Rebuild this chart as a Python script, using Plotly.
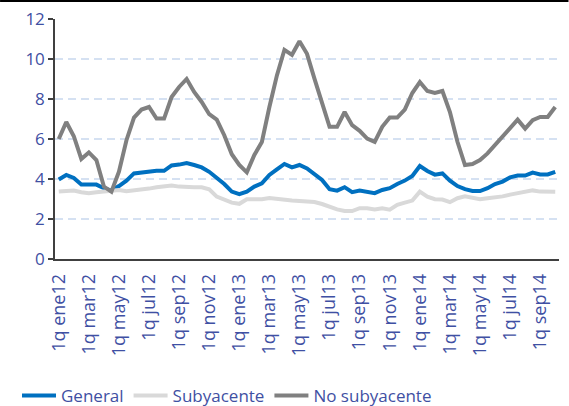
import plotly.graph_objects as go

meses = ["ene", "feb", "mar", "abr", "may", "jun", "jul", "ago", "sep", "oct", "nov", "dic"]
# Quincenas desde 1q ene12 hasta 1q oct14
periodos = [f"{q}q {meses[m % 12]}{12 + m // 12}" for m in range(34) for q in (1, 2)][:67]

etiquetas = ["1q ene12", "1q mar12", "1q may12", "1q jul12", "1q sep12", "1q nov12",
             "1q ene13", "1q mar13", "1q may13", "1q jul13", "1q sep13", "1q nov13",
             "1q ene14", "1q mar14", "1q may14", "1q jul14", "1q sep14"]

general = [3.98, 4.20, 4.05, 3.73, 3.73, 3.72, 3.54, 3.42, 3.65, 3.92,
           4.28, 4.32, 4.40, 4.41, 4.41, 4.68, 4.72, 4.80, 4.70, 4.58,
           4.36, 4.08, 3.75, 3.37, 3.24, 3.37, 3.62, 3.78, 4.20, 4.48,
           4.75, 4.58, 4.70, 4.53, 4.25, 3.95, 3.49, 3.42, 3.59, 3.34,
           3.42, 3.37, 3.29, 3.45, 3.54, 3.75, 3.92, 4.15, 4.65, 4.40,
           4.22, 4.28, 3.92, 3.65, 3.49, 3.40, 3.40, 3.54, 3.75, 3.87,
           4.08, 4.17, 4.17, 4.32, 4.23, 4.23, 4.36]

subyacente = [3.37, 3.37, 3.42, 3.34, 3.29, 3.34, 3.37, 3.42, 3.45, 3.39,
              3.42, 3.45, 3.52, 3.59, 3.65, 3.68, 3.62, 3.59, 3.59, 3.59,
              3.49, 3.12, 2.96, 2.82, 2.76, 2.99, 2.99, 2.99, 3.05, 2.99,
              2.97, 2.92, 2.90, 2.87, 2.85, 2.75, 2.60, 2.48, 2.40, 2.40,
              2.54, 2.54, 2.48, 2.54, 2.47, 2.71, 2.82, 2.92, 3.37, 3.12,
              2.99, 2.97, 2.84, 3.04, 3.13, 3.08, 2.99, 3.04, 3.07, 3.13,
              3.22, 3.30, 3.38, 3.43, 3.37, 3.36, 3.36]

no_subyacente = [6.00, 6.85, 6.14, 5.00, 5.33, 4.95, 3.62, 3.37, 4.37, 5.94,
                 7.07, 7.47, 7.60, 7.02, 7.02, 8.10, 8.60, 9.00, 8.35, 7.85,
                 7.24, 6.97, 6.19, 5.24, 4.70, 4.33, 5.20, 5.85, 7.60, 9.18,
                 10.46, 10.21, 10.89, 10.26, 9.01, 7.85, 6.61, 6.61, 7.35, 6.69,
                 6.41, 6.02, 5.86, 6.61, 7.07, 7.07, 7.47, 8.30, 8.85, 8.40,
                 8.30, 8.40, 7.35, 5.86, 4.70, 4.75, 4.95, 5.28, 5.69, 6.11,
                 6.57, 6.97, 6.52, 6.94, 7.10, 7.10, 7.60]

series = [("General", general, "#0070C0"),
          ("Subyacente", subyacente, "#D9D9D9"),
          ("No subyacente", no_subyacente, "#808080")]

txt = "#3F50A3"
axis_col = "#404040"
font = dict(family="Open Sans", size=17, color=txt)
xfont = dict(family="Open Sans", size=18, color=txt)

fig = go.Figure()
for name, vals, col in series:
    fig.add_trace(go.Scatter(x=periodos, y=vals, name=name, mode="lines",
                             line=dict(color=col, width=4)))

n = len(periodos)
W, H = 569, 406
ml, mr, mt, mb = 55, 9.5, 19, 147
pw, ph = W - ml - mr, H - mt - mb

fig.update_layout(
    width=W, height=H,
    margin=dict(l=ml, r=mr, t=mt, b=mb, autoexpand=False),
    paper_bgcolor="white", plot_bgcolor="white",
    font=font,
    showlegend=True,
    legend=dict(orientation="h", xref="container", x=17 / W, xanchor="left",
                yref="container", y=(H - 396) / H, yanchor="middle",
                font=font, itemwidth=34, tracegroupgap=0,
                bgcolor="rgba(0,0,0,0)"),
    xaxis=dict(type="category", range=[-0.5, n - 0.5], tickmode="array",
               tickvals=periodos[::4], ticktext=etiquetas, tickangle=-90,
               ticks="", showline=True, linecolor=axis_col, linewidth=1.5,
               showgrid=False, zeroline=False, tickfont=xfont, ticklabelstandoff=6),
    xaxis2=dict(overlaying="x", anchor="y", side="bottom", type="linear",
                range=[-0.5, n - 0.5], tickmode="array",
                tickvals=[k - 0.5 for k in range(0, n - 2, 4)],
                ticks="outside", ticklen=5, tickwidth=1.5, tickcolor=axis_col,
                showticklabels=False, showline=False, showgrid=False, zeroline=False),
    yaxis=dict(range=[0, 12], tickmode="array", tickvals=list(range(0, 13, 2)),
               ticks="outside", ticklen=5, tickwidth=1.5, tickcolor=axis_col,
               showline=True, linecolor=axis_col, linewidth=1.5,
               showgrid=True, gridcolor="#D5E1F2", gridwidth=1.5, griddash="8px,5px",
               zeroline=False, tickfont=font),
    shapes=[dict(type="line", xref="paper", yref="paper", layer="above",
                 x0=-ml / pw, x1=1 + mr / pw,
                 y0=1 + (mt - 1) / ph, y1=1 + (mt - 1) / ph,
                 line=dict(color="black", width=2))],
)

fig.write_html("out.html", config={"displayModeBar": False},
               post_script="document.body.style.margin='0';")
